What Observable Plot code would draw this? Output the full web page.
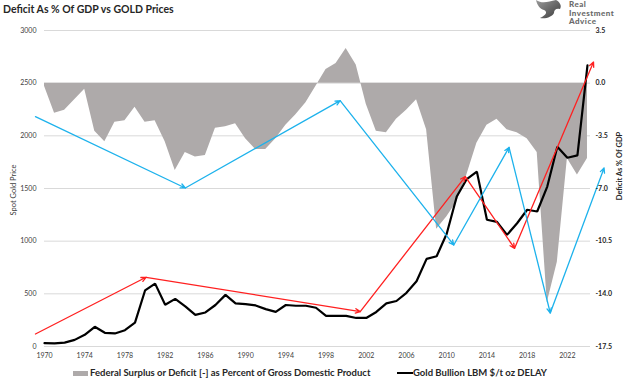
<!DOCTYPE html>
<html>
<head>
<meta charset="utf-8">
<script src="https://cdn.jsdelivr.net/npm/d3@7"></script>
<script src="https://cdn.jsdelivr.net/npm/@observablehq/plot@0.6"></script>
<style>
  html, body { margin: 0; padding: 0; background: #fff; }
  #wrap { position: relative; width: 624px; height: 387px; overflow: hidden; font-family: Lato, "Open Sans", sans-serif; }
  #chart { position: absolute; left: 0; top: 0; }
  .abs { position: absolute; white-space: nowrap; }
  #title { left: 3px; top: 3px; font-size: 10.5px; font-weight: bold; color: #262626; }
  .logo { left: 569px; font-size: 8px; font-weight: 900; color: #6a6a6a; line-height: 8px; height: 8px; letter-spacing: 0.5px; }
  .leg { font-size: 9.5px; font-weight: bold; color: #262626; top: 367px; }
  .ylab { font-size: 7.5px; color: #404040; transform: translate(-50%, -50%) rotate(-90deg); }
</style>
</head>
<body>
<div id="wrap">
  <div id="chart"></div>
  <div id="title" class="abs">Deficit As % Of GDP vs GOLD Prices</div>
  <svg class="abs" style="left:534px;top:0px" width="30" height="20" viewBox="0 0 30 20">
    <defs><linearGradient id="lg" x1="0" y1="0" x2="1" y2="1"><stop offset="0" stop-color="#9a9a9a"/><stop offset="1" stop-color="#3a3a3a"/></linearGradient></defs>
    <path d="M2,0 C8,4 14,2 22,0 C26,2 28,6 26,9 C22,8 20,10 20,13 C18,17 12,19 6,18 C12,15 14,12 10,10 C6,9 3,5 2,0 Z" fill="url(#lg)"/>
  </svg>
  <div class="abs logo" style="top:0px">Real</div>
  <div class="abs logo" style="top:8.5px">Investment</div>
  <div class="abs logo" style="top:17px">Advice</div>
  <div class="abs ylab" style="left:13px;top:190px">Spot Gold Price</div>
  <div class="abs ylab" style="left:619px;top:166px;font-weight:bold;color:#262626">Deficit As % Of GDP</div>
  <div class="abs" style="left:73px;top:371px;width:15px;height:5px;background:#aeaaaa"></div>
  <div class="abs leg" style="left:90px">Federal Surplus or Deficit [-] as Percent of Gross Domestic Product</div>
  <div class="abs" style="left:397px;top:372px;width:16px;height:2px;background:#000"></div>
  <div class="abs leg" style="left:413px">Gold Bullion LBM $/t oz DELAY</div>
</div>
<script>
// ---- data ----
const years = d3.range(1970, 2025);
const goldPrice = [32, 30, 37, 63, 111, 187, 130, 124, 155, 226,
  532, 597, 397, 452, 381, 300, 323, 394, 490, 410,
  403, 390, 355, 329, 394, 387, 387, 368, 290, 290,
  290, 271, 271, 328, 410, 432, 510, 620, 832, 857,
  1070, 1424, 1590, 1660, 1203, 1183, 1060, 1170, 1298, 1282,
  1518, 1896, 1792, 1814, 2670];
const deficitPct = [-0.2, -2.0, -1.8, -1.1, -0.4, -3.2, -3.9, -2.6, -2.5, -1.6,
  -2.6, -2.5, -3.9, -5.8, -4.6, -4.9, -4.8, -3.0, -2.9, -2.7,
  -3.7, -4.4, -4.4, -3.7, -2.8, -2.1, -1.3, -0.2, 0.9, 1.3,
  2.3, 1.2, -1.4, -3.2, -3.3, -2.4, -1.8, -1.1, -3.1, -9.7,
  -8.9, -7.9, -6.1, -4.0, -2.8, -2.4, -3.1, -3.3, -3.7, -4.6,
  -14.6, -11.9, -5.0, -6.1, -5.0];
const xTicks = [1970, 1974, 1978, 1982, 1986, 1990, 1994, 1998, 2002, 2006, 2010, 2014, 2018, 2022];
const goldTicks = [0, 500, 1000, 1500, 2000, 2500, 3000];
const deficitTickLabels = ["-17.5", "-14.0", "-10.5", "-7.0", "-3.5", "0.0", "3.5"];
// annotation arrows (year, gold-scale value)
const blueX = [1969.1, 1984.0, 1999.4, 2010.7, 2016.2, 2020.3, 2025.65];
const blueY = [2182, 1505, 2334, 964, 1890, 318, 1695];
const redX = [1969.1, 1980.1, 2001.4, 2011.85, 2016.75, 2024.6];
const redY = [119, 657, 331, 1613, 932, 2700];

// right axis: 3.5 pct-pts of GDP == 500 on the gold axis, 0% == 2500
const toGold = d => 2500 + d * 500 / 3.5;

const gold = years.map((y, i) => ({year: y, value: goldPrice[i]}));
const deficit = years.map((y, i) => ({year: y, d: deficitPct[i]}));
const segs = (xs, ys) => xs.slice(1).map((x, i) => ({x1: xs[i], y1: ys[i], x2: x, y2: ys[i + 1]}));

const chart = Plot.plot({
  width: 624,
  height: 387,
  marginTop: 30,
  marginBottom: 41,
  marginLeft: 44,
  marginRight: 34,
  x: {domain: [1970, 2024.3]},
  y: {domain: [0, 3000]},
  style: {fontFamily: "Lato, 'Open Sans', sans-serif", fontSize: "7px", color: "#595959", background: "transparent", overflow: "visible"},
  marks: [
    Plot.ruleY(goldTicks, {stroke: "#d9d9d9", strokeWidth: 1}),
    Plot.areaY(deficit, {x: "year", y1: () => 2500, y2: d => toGold(d.d), fill: "#aeaaaa"}),
    Plot.line(gold, {x: "year", y: "value", stroke: "#000", strokeWidth: 2.2, strokeLinejoin: "miter"}),
    Plot.arrow(segs(redX, redY), {x1: "x1", y1: "y1", x2: "x2", y2: "y2", stroke: "#ff2020", strokeWidth: 1.3, headLength: 6, headAngle: 50, clip: false}),
    Plot.arrow(segs(blueX, blueY), {x1: "x1", y1: "y1", x2: "x2", y2: "y2", stroke: "#1db2ec", strokeWidth: 1.3, headLength: 6, headAngle: 50, clip: false}),
    Plot.axisX({ticks: xTicks, tickSize: 0, tickPadding: 7, tickFormat: d => String(d), label: null, fill: "#404040"}),
    Plot.axisY({anchor: "left", ticks: goldTicks, tickSize: 0, tickPadding: 8, label: null, tickFormat: d => String(d), fill: "#404040"}),
    Plot.axisY({anchor: "right", ticks: goldTicks, tickSize: 0, tickPadding: 5, label: null,
      tickFormat: g => deficitTickLabels[goldTicks.indexOf(g)], fontWeight: "bold", fill: "#262626"})
  ]
});
document.getElementById("chart").appendChild(chart);
</script>
</body>
</html>
